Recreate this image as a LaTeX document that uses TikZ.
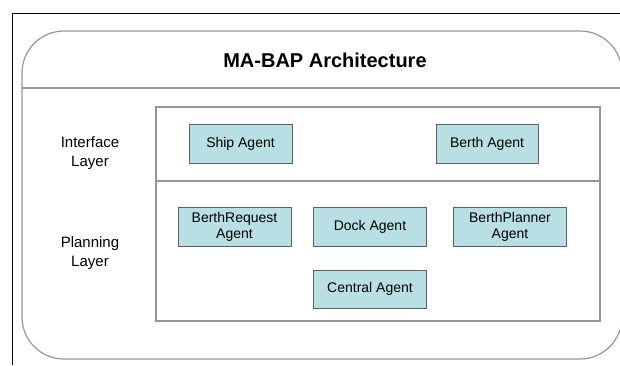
\documentclass[tikz,border=0pt]{standalone}
\usepackage{fontspec}
\setmainfont{Liberation Sans}
\usepackage{tikz}
\usetikzlibrary{positioning}
\definecolor{agentfill}{RGB}{184,223,228}
\definecolor{agentline}{RGB}{95,95,95}
\definecolor{frameline}{RGB}{150,150,150}

\begin{document}
\begin{tikzpicture}[x=1pt, y=-1pt,
  agent/.style={draw=agentline, line width=0.9pt, fill=agentfill, minimum width=113pt,
    minimum height=39pt, inner sep=1pt, align=center,
    font=\fontsize{14}{16}\selectfont},
  layer/.style={align=center, font=\fontsize{15}{19}\selectfont}]
\useasboundingbox (0, 0) rectangle (620, 365);
% screen frame
\draw[line width=1pt] (620, 13) -- (12, 13) -- (12, 365);
% outer container with title strip (right side runs off the page)
\draw[frameline, line width=1.2pt, rounded corners=42pt] (22, 31) rectangle (622, 359);
\draw[frameline, line width=1.2pt] (22, 88) -- (622, 88);
\node[font=\fontsize{20}{24}\selectfont\bfseries] (title) at (325, 60) {MA-BAP Architecture};
% layers
\draw[frameline, line width=1.2pt] (156, 107) rectangle (600, 321);
\draw[frameline, line width=1.2pt] (156, 181) -- (600, 181);
\node[layer] (iface) at (90, 153) {Interface\\Layer};
\node[layer] (plan) at (90, 253) {Planning\\Layer};
% agents
\node[agent, minimum width=103pt] (ship) at (240.5, 143.5) {Ship Agent};
\node[agent, minimum width=102pt] (berth) at (487, 143.5) {Berth Agent};
\node[agent] (request) at (234.5, 226.5) {BerthRequest\\Agent};
\node[agent] (dock) at (370, 226.5) {Dock Agent};
\node[agent] (planner) at (510, 226.5) {BerthPlanner\\Agent};
\node[agent, minimum height=38pt] (central) at (370, 289) {Central Agent};
\end{tikzpicture}
\end{document}
